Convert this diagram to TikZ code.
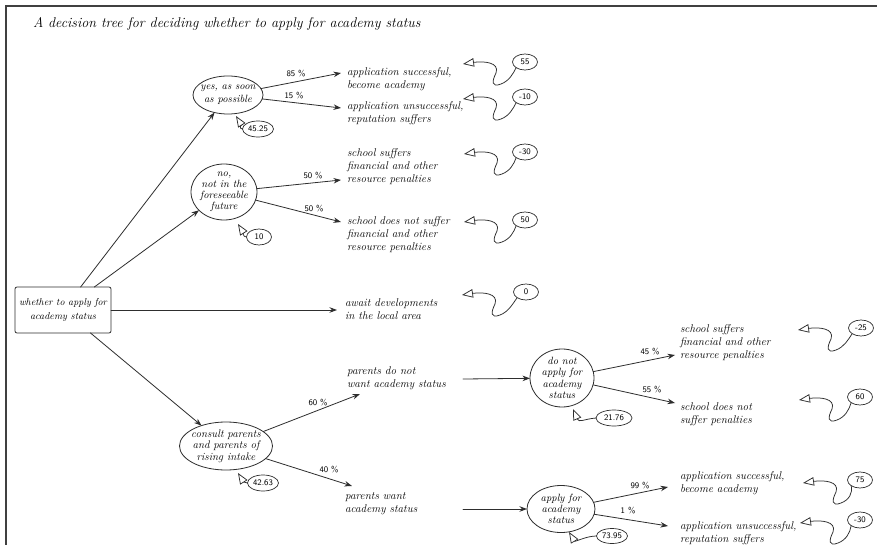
\documentclass[tikz,border=0pt]{standalone}
\usetikzlibrary{shapes.geometric,arrows.meta,calc}
\definecolor{ink}{HTML}{2E2E2E}
\newcommand\valsquig[2]{%
  \draw[ptr] (#2) .. controls ($(#2)+(20,-3)$) and ($(#2)+(37,-2)$) .. ($(#2)+(33,9)$)
    .. controls ($(#2)+(29,17)$) and ($(#2)+(28,24)$) .. ($(#2)+(38,20)$)
    .. controls ($(#2)+(46,17)$) and ($(#2)+(50,10)$) .. (#1.south west);}
\begin{document}
\begin{tikzpicture}[x=1pt,y=-1pt,line cap=round,
  every node/.style={inner sep=0pt,outer sep=0pt},
  txt/.style={font=\itshape\fontsize{11.2}{13}\selectfont,align=left,anchor=west,text=black},
  chance/.style={draw=ink,ellipse,line width=0.8pt},
  ctext/.style={font=\itshape\fontsize{10.5}{11.5}\selectfont,align=center,text=black},
  val/.style={draw=ink,ellipse,line width=0.7pt,minimum width=25pt,minimum height=16pt,font=\sffamily\fontsize{8.5}{10}\selectfont},
  pct/.style={font=\sffamily\fontsize{8.5}{10}\selectfont},
  edge/.style={draw=ink,line width=0.8pt,-{Stealth[length=7.5pt,width=5.5pt]}},
  ptr/.style={draw=ink,line width=0.75pt,{Triangle[open,length=11pt,width=8.5pt,fill=white]}-},
]
\useasboundingbox (0,0) rectangle (877,545);
\fill[white] (0,0) rectangle (877,545);
% frame
\draw[line width=1.5pt,black!75] (6,545) -- (6,6) -- (877,6);
% title
\node[font=\itshape\fontsize{14.1}{16}\selectfont,anchor=west] (title) at (33,24)
  {A decision tree for deciding whether to apply for academy status};

% root
\node[draw=ink,line width=0.8pt,rounded corners=2pt,minimum width=96pt,minimum height=46pt,
  font=\itshape\fontsize{10}{14}\selectfont,align=center] (root) at (63,310)
  {whether to apply for\\academy status};

% chance nodes
\node[chance,minimum width=70pt,minimum height=38pt] (yes) at (228,95) {};
\node[ctext,font=\itshape\fontsize{10.5}{13}\selectfont] (yesT) at (yes) {yes, as soon\\as possible};
\node[chance,minimum width=66pt,minimum height=56pt] (no) at (224,192) {};
\node[ctext,font=\itshape\fontsize{10.5}{11}\selectfont] (noT) at (no) {no,\\not in the\\foreseeable\\future};
\node[chance,minimum width=93pt,minimum height=48pt] (con) at (226,446) {};
\node[ctext,font=\itshape\fontsize{11}{11.5}\selectfont] (conT) at (con) {consult parents\\and parents of\\rising intake};
\node[chance,minimum width=64pt,minimum height=58pt] (dna) at (562,378) {};
\node[ctext,font=\itshape\fontsize{10.5}{11.5}\selectfont] (dnaT) at (dna) {do not\\apply for\\academy\\status};
\node[chance,minimum width=68pt,minimum height=47pt] (app) at (561,509) {};
\node[ctext,font=\itshape\fontsize{10.5}{11.2}\selectfont] (appT) at (app) {apply for\\academy\\status};

% outcome texts
\node[txt] (o55) at (347,79.5) {application successful,\\become academy};
\node[txt] (om10) at (347,113.5) {application unsuccessful,\\reputation suffers};
\node[txt] (om30) at (347,166.5) {school suffers\\financial and other\\resource penalties};
\node[txt] (o50) at (347,235) {school does not suffer\\financial and other\\resource penalties};
\node[txt] (o0) at (345,309) {await developments\\in the local area};
\node[txt] (pdn) at (347,378.5) {parents do not\\want academy status};
\node[txt] (pw) at (345,503.5) {parents want\\academy status};
\node[txt] (om25) at (680,343) {school suffers\\financial and other\\resource penalties};
\node[txt] (o60) at (680,414.5) {school does not\\suffer penalties};
\node[txt] (o75) at (680,483) {application successful,\\become academy};
\node[txt] (om30b) at (680,533) {application unsuccessful,\\reputation suffers};

% arrow end points
\coordinate (e85) at (341,73);
\coordinate (e15) at (341,108);
\coordinate (e50a) at (341,180);
\coordinate (e50b) at (341,222);
\coordinate (eaw) at (337,310);
\coordinate (e60) at (360,394);
\coordinate (e40) at (352,486);
\coordinate (e45) at (675,355);
\coordinate (e55) at (675,403);
\coordinate (e99) at (668,487);
\coordinate (e1) at (668,526);
\coordinate (h1) at (463,379);
\coordinate (h2) at (463,509);

% edges
\draw[edge] (root) -- (yes);
\draw[edge] (root) -- (no);
\draw[edge] (root.east) -- (eaw);
\draw[edge] (root) -- (con);
\draw[edge] (yes) -- (e85);
\draw[edge] (yes) -- (e15);
\draw[edge] (no) -- (e50a);
\draw[edge] (no) -- (e50b);
\draw[edge] (con) -- (e60);
\draw[edge] (con) -- (e40);
\draw[edge] (h1) -- (dna);
\draw[edge] (h2) -- (app);
\draw[edge] (dna) -- (e45);
\draw[edge] (dna) -- (e55);
\draw[edge] (app) -- (e99);
\draw[edge] (app) -- (e1);

% percentages
\node[pct] (p85) at (296,74) {85 \%};
\node[pct] (p15) at (294,96) {15 \%};
\node[pct] (p50a) at (313,176) {50 \%};
\node[pct] (p50b) at (314,209) {50 \%};
\node[pct] (p60) at (318,403) {60 \%};
\node[pct] (p40) at (329,470) {40 \%};
\node[pct] (p45) at (650,352) {45 \%};
\node[pct] (p55) at (652,390) {55 \%};
\node[pct] (p99) at (640,486) {99 \%};
\node[pct] (p1) at (628,511) {1 \%};

% value callouts (outcomes)
\node[val] (v55) at (525,62) {55};
\node[val] (vm10) at (525,97) {-10};
\node[val] (vm30) at (525,152) {-30};
\node[val] (v50) at (525,220) {50};
\node[val] (v0) at (526,292) {0};
\node[val] (vm25) at (861,328) {-25};
\node[val] (v60) at (860,397) {60};
\node[val] (v75) at (860,480) {75};
\node[val] (vm30b) at (860,520) {-30};
\coordinate (t55) at (463,64);
\coordinate (tm10) at (463,99);
\coordinate (tm30) at (464,154);
\coordinate (t50) at (464,222);
\coordinate (t0) at (462,295);
\coordinate (tm25) at (798,330);
\coordinate (t60) at (799,400);
\coordinate (t75) at (803,483);
\coordinate (tm30b) at (800,523);
\valsquig{v55}{t55}
\valsquig{vm10}{tm10}
\valsquig{vm30}{tm30}
\valsquig{v50}{t50}
\valsquig{v0}{t0}
\valsquig{vm25}{tm25}
\valsquig{v60}{t60}
\valsquig{v75}{t75}
\valsquig{vm30b}{tm30b}

% value callouts (chance nodes)
\node[val,minimum width=31pt] (v4525) at (258,129) {45.25};
\node[val] (v10) at (259,237) {10};
\node[val,minimum width=31pt] (v4263) at (263,483) {42.63};
\node[val,minimum width=36pt] (v2176) at (614,418) {21.76};
\node[val,minimum width=31pt,minimum height=15pt] (v7395) at (612,536) {73.95};
\coordinate (t4525) at (236,116);
\coordinate (t10) at (238,224);
\coordinate (t4263) at (238,473);
\coordinate (t2176) at (573,409);
\coordinate (t7395) at (569,532);
\draw[ptr] (t4525) .. controls ($(t4525)+(5,8)$) and ($(v4525.west)+(-4,0)$) .. (v4525.west);
\draw[ptr] (t10) .. controls ($(t10)+(5,8)$) and ($(v10.west)+(-4,0)$) .. (v10.west);
\draw[ptr] (t4263) .. controls ($(t4263)+(5,8)$) and ($(v4263.west)+(-3,0)$) .. (v4263.west);
\draw[ptr] (t2176) .. controls ($(t2176)+(6,14)$) and ($(v2176.west)+(-12,1)$) .. (v2176.west);
\draw[ptr] (t7395) .. controls ($(t7395)+(6,10)$) and ($(v7395.west)+(-10,0)$) .. (v7395.west);
\end{tikzpicture}
\end{document}
